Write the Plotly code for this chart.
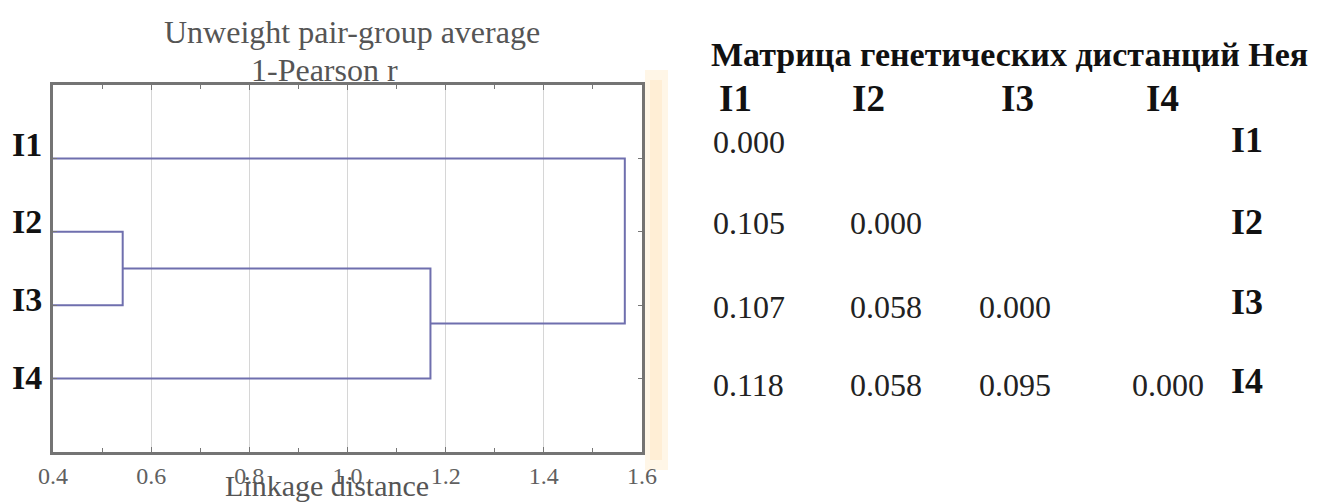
import plotly.graph_objects as go

# ---------------- data ----------------
leaves = ["I1", "I2", "I3", "I4"]
leaf_pos = [1, 2, 3, 4]
# merges: (members joined, linkage distance)
merge_left = [["I2"], ["I2", "I3"], ["I1"]]
merge_right = [["I3"], ["I4"], ["I2", "I3", "I4"]]
merge_heights = [0.542, 1.169, 1.565]

x_ticks = [0.4, 0.6, 0.8, 1.0, 1.2, 1.4, 1.6]
x_tick_text = ["0.4", "0.6", "0.8", "1.0", "1.2", "1.4", "1.6"]

matrix_title = "Матрица генетических дистанций Нея"
matrix_labels = ["I1", "I2", "I3", "I4"]
row1 = [0.000]
row2 = [0.105, 0.000]
row3 = [0.107, 0.058, 0.000]
row4 = [0.118, 0.058, 0.095, 0.000]
matrix_rows = [row1, row2, row3, row4]

W, H = 1318, 502
def px(x):
    return x / W
def py(y):
    return 1 - y / H

SERIF = "Liberation Serif, Times New Roman, serif"
LINE_COLOR = "#6f6fae"
GRAY_TXT = "#555555"

fig = go.Figure()

# ---------------- dendrogram ----------------
node_pos = {(n,): p for n, p in zip(leaves, leaf_pos)}
node_h = {(n,): 0.0 for n in leaves}
for left, right, h in zip(merge_left, merge_right, merge_heights):
    ka, kb = tuple(left), tuple(right)
    ya, yb = node_pos[ka], node_pos[kb]
    fig.add_trace(go.Scatter(x=[node_h[ka], h, h, node_h[kb]], y=[ya, ya, yb, yb],
                             mode="lines", line=dict(color=LINE_COLOR, width=2),
                             hoverinfo="skip", showlegend=False))
    k = tuple(sorted(left + right))
    node_pos[k] = (ya + yb) / 2
    node_h[k] = h

# ---------------- axes ----------------
fig.update_layout(
    width=W, height=H,
    margin=dict(l=0, r=0, t=0, b=0, autoexpand=False),
    paper_bgcolor="white", plot_bgcolor="white",
    xaxis=dict(
        domain=[px(53), px(642)],
        range=[0.4, 1.6], automargin=False,
        tickvals=x_ticks, ticktext=x_tick_text,
        tickfont=dict(family=SERIF, size=24, color="#606060"),
        ticks="inside", ticklen=5, tickcolor="#777777",
        showline=True, linecolor="#747474", linewidth=3, mirror="ticks",
        showgrid=True, gridcolor="#d6d6d6", gridwidth=1,
        minor=dict(dtick=0.1, ticks="inside", ticklen=4, tickcolor="#777777", showgrid=False),
        zeroline=False,
    ),
    yaxis=dict(
        domain=[py(452), py(85)],
        range=[5, 0], automargin=False,
        tickvals=leaf_pos, showticklabels=False,
        ticks="inside", ticklen=4, tickcolor="#777777",
        showline=True, linecolor="#747474", linewidth=3, mirror="ticks",
        showgrid=False, zeroline=False,
    ),
)

ann = []
# chart titles
ann.append(dict(text="Unweight pair-group average", x=px(352), y=py(32), xref="paper", yref="paper",
                xanchor="center", yanchor="middle", showarrow=False,
                font=dict(family=SERIF, size=32, color=GRAY_TXT)))
ann.append(dict(text="1-Pearson r", x=px(324), y=py(70), xref="paper", yref="paper",
                xanchor="center", yanchor="middle", showarrow=False,
                font=dict(family=SERIF, size=32, color=GRAY_TXT)))
ann.append(dict(text="Linkage distance", x=px(327), y=py(485), xref="paper", yref="paper",
                xanchor="center", yanchor="middle", showarrow=False,
                font=dict(family=SERIF, size=30, color=GRAY_TXT)))
# leaf labels (slightly raised above their branch lines)
label_shift = [14, 10, 6, 1]
for name, p, s in zip(leaves, leaf_pos, label_shift):
    ann.append(dict(text="<b>%s</b>" % name, x=px(44), y=p, xref="paper", yref="y",
                    xanchor="right", yanchor="middle", yshift=s, showarrow=False,
                    font=dict(family=SERIF, size=34, color="#111111")))

# ---------------- distance matrix ----------------
ann.append(dict(text="<b>%s</b>" % matrix_title, x=px(709), y=py(54), xref="paper", yref="paper",
                xanchor="left", yanchor="middle", showarrow=False,
                font=dict(family=SERIF, size=34, color="#111111")))
header_x = [717, 850, 999, 1144]
value_x = [711, 848, 977, 1130]
row_y = [142, 223, 307, 385]
label_y = [140, 222, 302, 381]
for lab, hx in zip(matrix_labels, header_x):
    ann.append(dict(text="<b>%s</b>" % lab, x=px(hx), y=py(98), xref="paper", yref="paper",
                    xanchor="left", yanchor="middle", showarrow=False,
                    font=dict(family=SERIF, size=37, color="#111111")))
for i, (lab, vals) in enumerate(zip(matrix_labels, matrix_rows)):
    for j, v in enumerate(vals):
        ann.append(dict(text="%.3f" % v, x=px(value_x[j]), y=py(row_y[i]), xref="paper", yref="paper",
                        xanchor="left", yanchor="middle", showarrow=False,
                        font=dict(family=SERIF, size=32, color="#222222")))
    ann.append(dict(text="<b>%s</b>" % lab, x=px(1229), y=py(label_y[i]), xref="paper", yref="paper",
                    xanchor="left", yanchor="middle", showarrow=False,
                    font=dict(family=SERIF, size=36, color="#111111")))

fig.update_layout(annotations=ann)

# faint orange strip right of the chart frame
fig.add_shape(type="rect", xref="paper", yref="paper",
              x0=px(645), x1=px(668), y0=py(470), y1=py(70),
              fillcolor="rgba(255,225,175,0.30)", line=dict(width=0), layer="below")
fig.add_shape(type="rect", xref="paper", yref="paper",
              x0=px(650), x1=px(662), y0=py(460), y1=py(80),
              fillcolor="rgba(255,215,160,0.25)", line=dict(width=0), layer="below")

fig.write_html("out.html")
